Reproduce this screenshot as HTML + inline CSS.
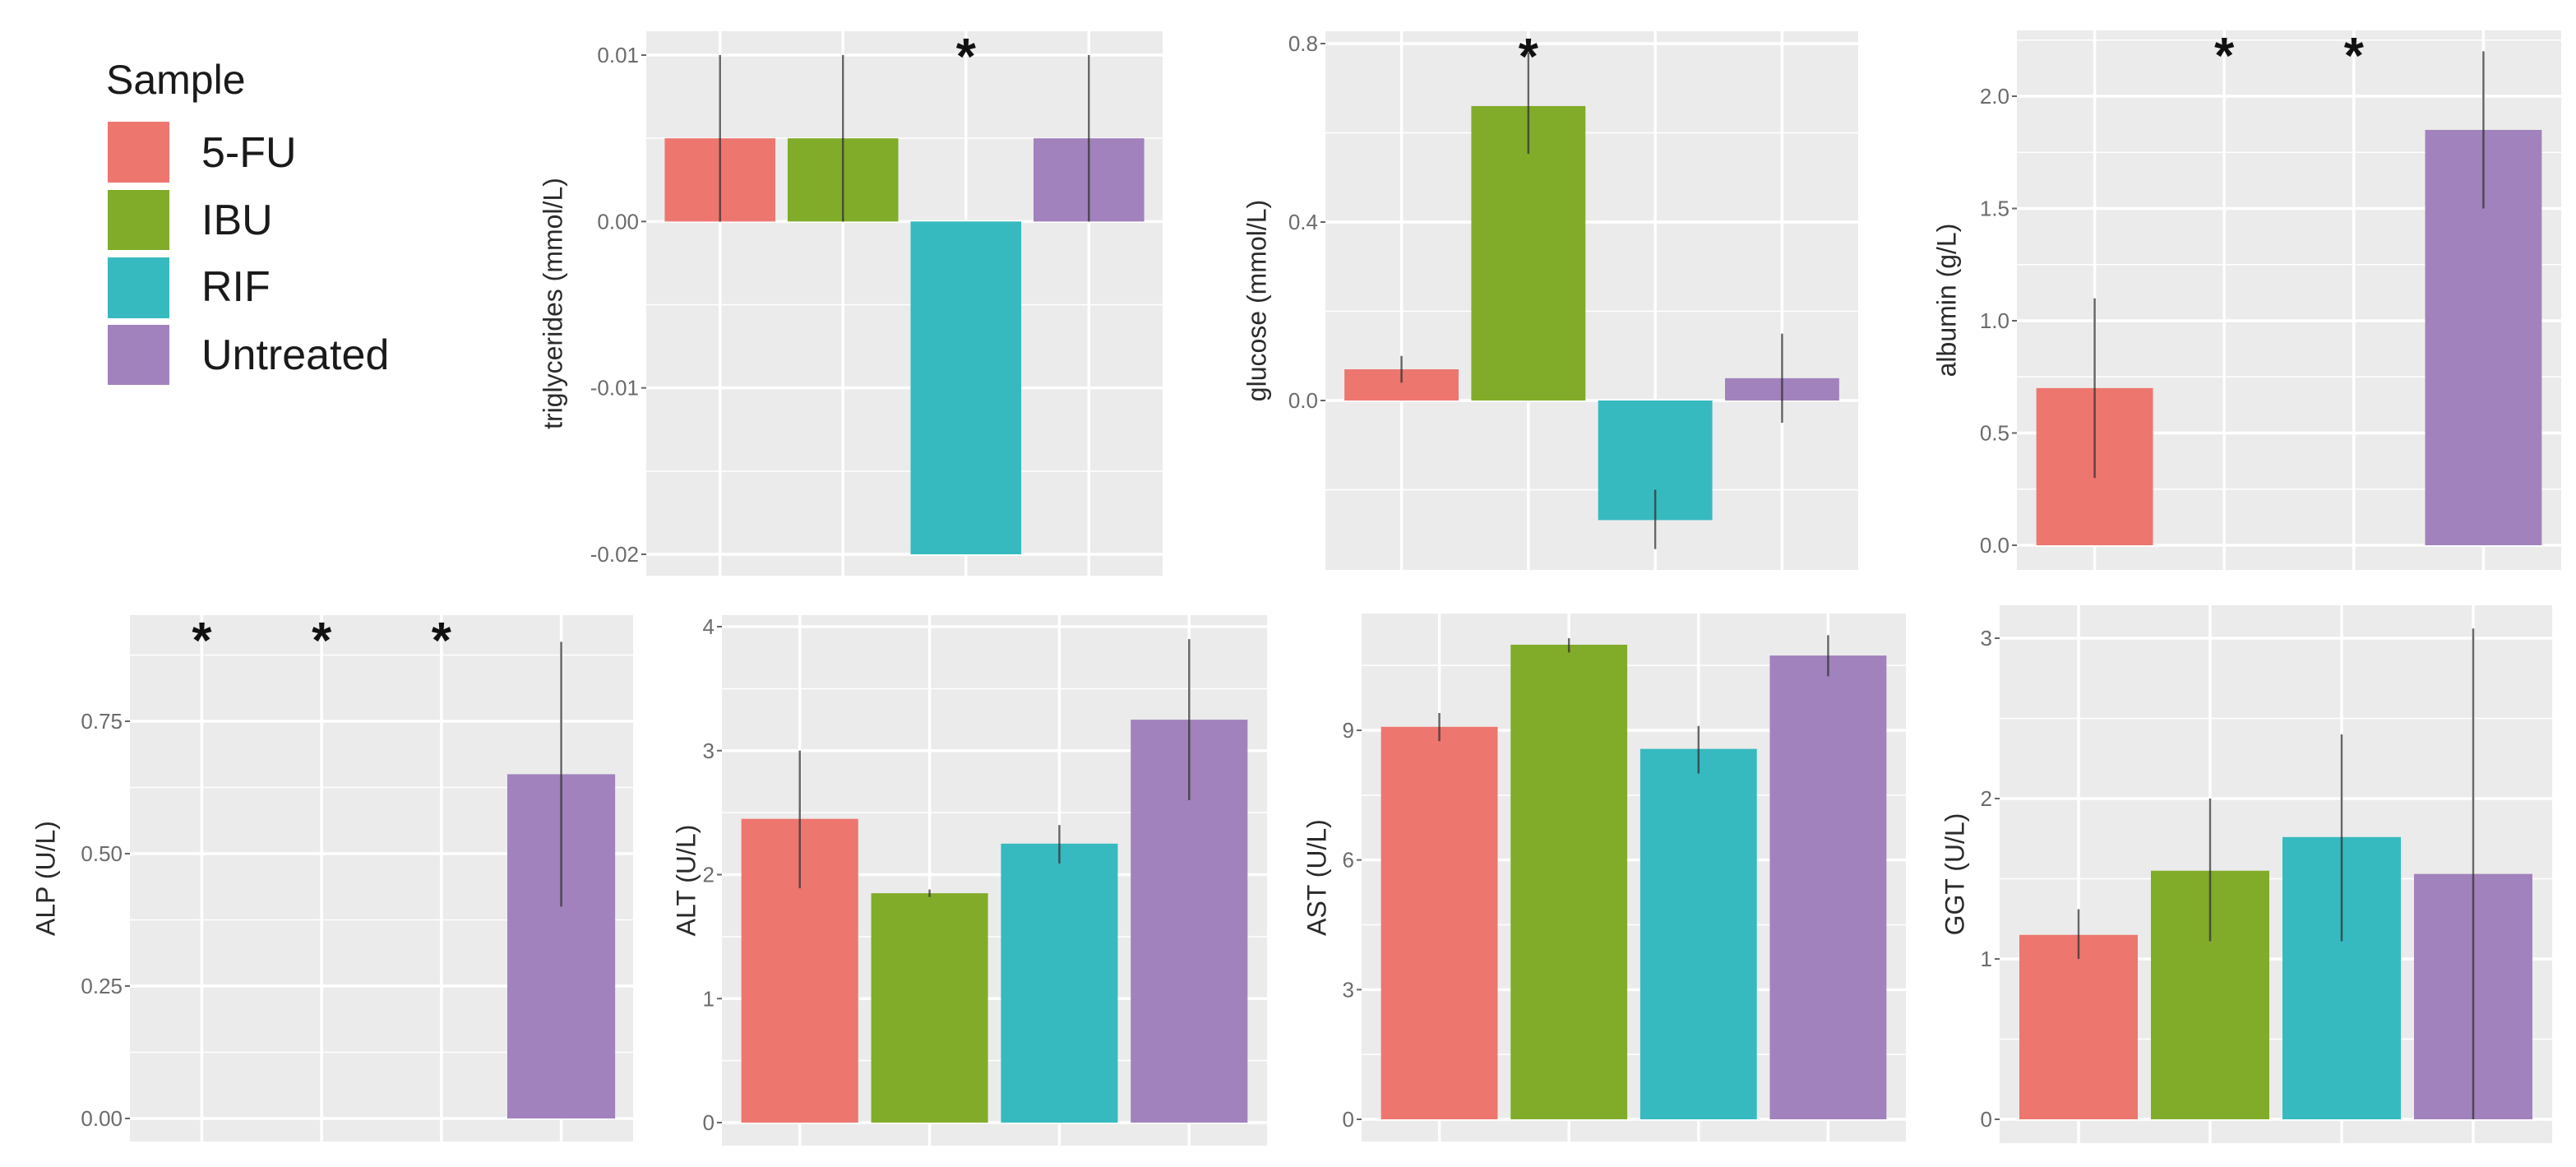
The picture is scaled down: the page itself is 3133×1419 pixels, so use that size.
<!DOCTYPE html>
<html><head><meta charset="utf-8"><style>
html,body{margin:0;padding:0;background:#fff;}
svg{display:block;font-family:"Liberation Sans",sans-serif;}
</style></head><body>
<svg id="fig" width="3133" height="1419" viewBox="0 0 3133 1419" xmlns="http://www.w3.org/2000/svg">
<g id="legend">
<text x="129" y="114" font-size="50" fill="#1a1a1a">Sample</text>
<rect x="131" y="148" width="75" height="74" fill="#ED766F"/>
<text x="245" y="203" font-size="52" fill="#1a1a1a">5-FU</text>
<rect x="131" y="231" width="75" height="73" fill="#81AC29"/>
<text x="245" y="285" font-size="52" fill="#1a1a1a">IBU</text>
<rect x="131" y="313" width="75" height="74" fill="#36BAC0"/>
<text x="245" y="366" font-size="52" fill="#1a1a1a">RIF</text>
<rect x="131" y="395" width="75" height="73" fill="#A182BD"/>
<text x="245" y="449" font-size="52" fill="#1a1a1a">Untreated</text>
</g>
</svg>
<script>
const groups = ["5-FU","IBU","RIF","Untreated"];
const colors = ["#ED766F","#81AC29","#36BAC0","#A182BD"];
const trigValues = [0.005,0.005,-0.02,0.005];
const trigLow = [0,0,-0.02,0];
const trigHigh = [0.01,0.01,-0.02,0.01];
const trigTicks = [0.01,0,-0.01,-0.02];
const trigTickLabels = ["0.01","0.00","-0.01","-0.02"];
const trigStars = [false,false,true,false];
const glucValues = [0.07,0.66,-0.268,0.05];
const glucLow = [0.04,0.553,-0.333,-0.05];
const glucHigh = [0.10,0.78,-0.20,0.15];
const glucTicks = [0.8,0.4,0.0];
const glucTickLabels = ["0.8","0.4","0.0"];
const glucStars = [false,true,false,false];
const albValues = [0.70,null,null,1.85];
const albLow = [0.30,null,null,1.50];
const albHigh = [1.10,null,null,2.20];
const albTicks = [0,0.5,1.0,1.5,2.0];
const albTickLabels = ["0.0","0.5","1.0","1.5","2.0"];
const albStars = [false,true,true,false];
const alpValues = [null,null,null,0.65];
const alpLow = [null,null,null,0.40];
const alpHigh = [null,null,null,0.90];
const alpTicks = [0,0.25,0.5,0.75];
const alpTickLabels = ["0.00","0.25","0.50","0.75"];
const alpStars = [true,true,true,false];
const altValues = [2.45,1.85,2.25,3.25];
const altLow = [1.89,1.82,2.09,2.6];
const altHigh = [3.0,1.88,2.4,3.9];
const altTicks = [0,1,2,3,4];
const altTickLabels = ["0","1","2","3","4"];
const altStars = [false,false,false,false];
const astValues = [9.08,10.98,8.57,10.73];
const astLow = [8.75,10.8,8.0,10.25];
const astHigh = [9.4,11.13,9.1,11.2];
const astTicks = [0,3,6,9];
const astTickLabels = ["0","3","6","9"];
const astStars = [false,false,false,false];
const ggtValues = [1.15,1.55,1.76,1.53];
const ggtLow = [1.0,1.11,1.11,0];
const ggtHigh = [1.31,2.0,2.4,3.06];
const ggtTicks = [0,1,2,3];
const ggtTickLabels = ["0","1","2","3"];
const ggtStars = [false,false,false,false];

// layout: bg box and two calibration ticks (value,pixel)
const panels = [
 {name:"triglycerides",title:"triglycerides (mmol/L)",x0:786,x1:1414,y0:38,y1:700,cal:[0.01,67,-0.02,674],lx:675,v:trigValues,lo:trigLow,hi:trigHigh,t:trigTicks,tl:trigTickLabels,s:trigStars},
 {name:"glucose",title:"glucose (mmol/L)",x0:1612,x1:2260,y0:38,y1:693,cal:[0.8,53,0.0,487],lx:1531,v:glucValues,lo:glucLow,hi:glucHigh,t:glucTicks,tl:glucTickLabels,s:glucStars},
 {name:"albumin",title:"albumin (g/L)",x0:2453,x1:3115,y0:37,y1:693,cal:[2.0,117,0.0,663],lx:2370,v:albValues,lo:albLow,hi:albHigh,t:albTicks,tl:albTickLabels,s:albStars},
 {name:"alp",title:"ALP (U/L)",x0:158,x1:770,y0:748,y1:1388,cal:[0.75,877,0,1360],lx:58,v:alpValues,lo:alpLow,hi:alpHigh,t:alpTicks,tl:alpTickLabels,s:alpStars},
 {name:"alt",title:"ALT (U/L)",x0:878,x1:1541,y0:748,y1:1393,cal:[4,762,0,1365],lx:837,v:altValues,lo:altLow,hi:altHigh,t:altTicks,tl:altTickLabels,s:altStars},
 {name:"ast",title:"AST (U/L)",x0:1656,x1:2318,y0:746,y1:1388,cal:[9,888,0,1361],lx:1604,v:astValues,lo:astLow,hi:astHigh,t:astTicks,tl:astTickLabels,s:astStars},
 {name:"ggt",title:"GGT (U/L)",x0:2432,x1:3104,y0:736,y1:1390,cal:[3,776,0,1361],lx:2380,v:ggtValues,lo:ggtLow,hi:ggtHigh,t:ggtTicks,tl:ggtTickLabels,s:ggtStars}
];
const NS="http://www.w3.org/2000/svg";
const svg=document.getElementById('fig');
function mk(tag,attrs,parent){const e=document.createElementNS(NS,tag);for(const k in attrs)e.setAttribute(k,attrs[k]);parent.appendChild(e);return e;}
panels.forEach(p=>{
  const g=mk('g',{},svg);
  
  
  const [va,pa,vb,pb]=p.cal;
  const y=v=>pa+(v-va)*(pb-pa)/(vb-va);
  const unit=(p.x1-p.x0)/4.2;
  const x=i=>p.x0+(0.6+i)*unit;
  const bg=mk('rect',{x:p.x0,y:p.y0,width:p.x1-p.x0,height:p.y1-p.y0,fill:'#EBEBEB'},g);
  
  
  // minor grid
  const step=p.t[1]-p.t[0];
  const tmin=Math.min(...p.t), tmax=Math.max(...p.t), st=Math.abs(step);
  for(let v=tmin-st/2; v<=tmax+st/2+1e-9; v+=st){
    const yy=y(v); if(yy>p.y0&&yy<p.y1){
      const l=mk('line',{x1:p.x0,x2:p.x1,y1:yy,y2:yy,stroke:'#fff','stroke-width':1.5},g);
      
      
    }
  }
  p.t.forEach((v,i)=>{
    const yy=y(v);
    const l=mk('line',{x1:p.x0,x2:p.x1,y1:yy,y2:yy,stroke:'#fff','stroke-width':3.5},g);
    
    
    const tk=mk('line',{x1:p.x0-6,x2:p.x0,y1:yy,y2:yy,stroke:'#666','stroke-width':2},g);
    
    
    const t=mk('text',{x:p.x0-9,y:yy+9,'text-anchor':'end','font-size':26,fill:'#6b6b6b'},g);
    t.textContent=p.tl[i];
    
    
  });
  for(let i=0;i<4;i++){
    const l=mk('line',{x1:x(i),x2:x(i),y1:p.y0,y2:p.y1,stroke:'#fff','stroke-width':3.5},g);
    
    
  }
  const bw=0.9*unit;
  p.v.forEach((v,i)=>{
    if(v!==null){
      const y0=y(0), yv=y(v);
      const r=mk('rect',{x:x(i)-bw/2,y:Math.min(y0,yv),width:bw,height:Math.abs(y0-yv),fill:colors[i]},g);
      
      
      if(p.lo[i]!==null && p.lo[i]!==p.hi[i]){
        const e=mk('line',{x1:x(i),x2:x(i),y1:y(p.hi[i]),y2:y(p.lo[i]),stroke:'#333','stroke-opacity':0.75,'stroke-width':2.5},g);
        
        
      }
    }
    if(p.s[i]){
      const s=mk('text',{x:x(i),y:p.y0+52,'text-anchor':'middle','font-size':62,'font-weight':'bold',fill:'#111'},g);
      s.textContent='*';
      
      
    }
  });
  const cy=(p.y0+p.y1)/2;
  const yl=mk('text',{x:p.lx,y:cy,'text-anchor':'middle','font-size':32,fill:'#2a2a2a',transform:`rotate(-90 ${p.lx} ${cy})`,'dominant-baseline':'middle'},g);
  yl.textContent=p.title;
  
  
});
</script>
</body></html>
